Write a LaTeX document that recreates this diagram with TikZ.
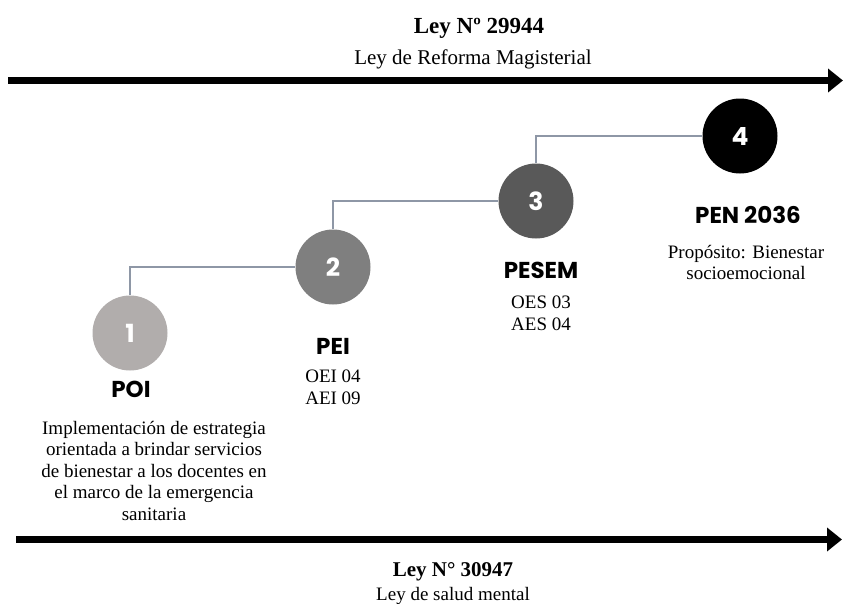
\documentclass[tikz,border=0pt]{standalone}
\usepackage{fontspec}
\setmainfont{Liberation Serif}
\newfontfamily\popfont{Poppins}
\usetikzlibrary{positioning,arrows.meta}
\definecolor{stoneA}{HTML}{B1ADAC}
\definecolor{stoneB}{HTML}{7F7F7F}
\definecolor{stoneC}{HTML}{595959}
\definecolor{linkgray}{HTML}{8E97A6}

\begin{document}
\begin{tikzpicture}[x=1pt, y=-1pt,
    stage/.style={circle, minimum size=75pt, inner sep=0pt, text=white,
      font=\popfont\bfseries\fontsize{25}{25}\selectfont},
    plan/.style={inner sep=0pt, font=\popfont\bfseries\fontsize{23}{23}\selectfont},
    info/.style={inner sep=0pt, align=center, anchor=north,
      font=\fontsize{19}{21.5}\selectfont},
    lawname/.style={inner sep=0pt, anchor=base, font=\bfseries\fontsize{23}{23}\selectfont},
    lawsub/.style={inner sep=0pt, anchor=base, font=\fontsize{21}{21}\selectfont},
    link/.style={draw=linkgray, line width=1.3pt},
    law/.style={line width=7pt, -{Triangle[length=15pt,width=23pt]}}]
  \useasboundingbox (0,0) rectangle (844,603);
  % laws
  \coordinate (topL) at (8,80.5);
  \coordinate (topR) at (843,80.5);
  \coordinate (botL) at (16,539.5);
  \coordinate (botR) at (842,539.5);
  \draw[law] (topL) -- (topR);
  \draw[law] (botL) -- (botR);
  \node[lawname] (law1) at (479,33) {Ley Nº 29944};
  \node[lawsub] (law1sub) at (473,64) {Ley de Reforma Magisterial};
  \node[lawname, font=\bfseries\fontsize{21}{21}\selectfont] (law2) at (453,576) {Ley N° 30947};
  \node[lawsub, font=\fontsize{19}{19}\selectfont] (law2sub) at (453,600) {Ley de salud mental};
  % stages
  \node[stage, fill=stoneA] (c1) at (130,333) {1};
  \node[stage, fill=stoneB] (c2) at (333,267) {2};
  \node[stage, fill=stoneC] (c3) at (536,201) {3};
  \node[stage, fill=black] (c4) at (740,136) {4};
  \draw[link] (c1.north) |- (c2.west);
  \draw[link] (c2.north) |- (c3.west);
  \draw[link] (c3.north) |- (c4.west);
  % plans
  \node[plan] (poi) at (131,389) {POI};
  \node[info] (poitxt) at (154,421) {Implementación de estrategia\\orientada a brindar servicios\\de bienestar a los docentes en\\el marco de la emergencia\\sanitaria};
  \node[plan] (pei) at (333,346) {PEI};
  \node[info] (peitxt) at (333,370) {OEI 04\\AEI 09};
  \node[plan] (pesem) at (541,270) {PESEM};
  \node[info] (pesemtxt) at (541,296) {OES 03\\AES 04};
  \node[plan] (pen) at (748,215) {PEN 2036};
  \node[info] (pentxt) at (746,245) {Propósito: Bienestar\\socioemocional};
\end{tikzpicture}
\end{document}
